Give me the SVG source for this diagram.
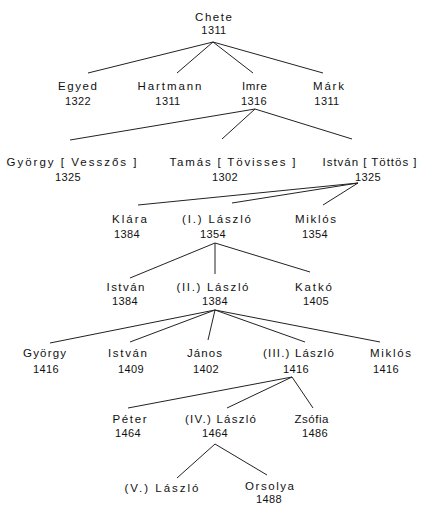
<svg xmlns="http://www.w3.org/2000/svg" width="426" height="505" viewBox="0 0 426 505">
<style>
text{font-family:"Liberation Sans","DejaVu Sans",sans-serif;font-size:11.5px;fill:#111;text-anchor:middle;letter-spacing:1px}
.y{font-size:11px;letter-spacing:0.4px}
#connectors line{stroke:#222;stroke-width:1;fill:none}
</style>
<rect width="426" height="505" fill="#fff"/>
<g id="connectors">
<line x1="213" y1="42" x2="88" y2="73"/>
<line x1="213" y1="42" x2="177" y2="73"/>
<line x1="213" y1="42" x2="253" y2="73"/>
<line x1="213" y1="42" x2="323" y2="73"/>
<line x1="255" y1="109" x2="70" y2="140"/>
<line x1="255" y1="109" x2="222" y2="139"/>
<line x1="255" y1="109" x2="352" y2="139"/>
<line x1="358" y1="183" x2="138" y2="205"/>
<line x1="358" y1="183" x2="232" y2="203"/>
<line x1="358" y1="183" x2="323" y2="205"/>
<line x1="215" y1="243" x2="130" y2="278"/>
<line x1="215" y1="243" x2="215" y2="274"/>
<line x1="215" y1="243" x2="310" y2="272"/>
<line x1="215" y1="310" x2="50" y2="343"/>
<line x1="215" y1="310" x2="130" y2="342"/>
<line x1="215" y1="310" x2="208" y2="340"/>
<line x1="215" y1="310" x2="305" y2="342"/>
<line x1="215" y1="310" x2="380" y2="342"/>
<line x1="292" y1="377" x2="128" y2="408"/>
<line x1="292" y1="377" x2="227" y2="408"/>
<line x1="292" y1="377" x2="313" y2="408"/>
<line x1="215" y1="444" x2="177" y2="478"/>
<line x1="215" y1="444" x2="267" y2="475"/>
</g>
<g id="chete"><text x="214" y="21" textLength="38">Chete</text><text class="y" x="214" y="34">1311</text></g>
<g id="egyed"><text x="78" y="90" textLength="40">Egyed</text><text class="y" x="78" y="105">1322</text></g>
<g id="hartmann"><text x="170" y="90" textLength="65">Hartmann</text><text class="y" x="168" y="105">1311</text></g>
<g id="imre"><text x="255" y="90" textLength="26">Imre</text><text class="y" x="254" y="105">1316</text></g>
<g id="mark"><text x="329" y="90" textLength="32">Márk</text><text class="y" x="327" y="105">1311</text></g>
<g id="gyorgy-vesszos"><text x="72" y="166" textLength="131">György [ Vesszős ]</text><text class="y" x="68" y="181">1325</text></g>
<g id="tamas-tovisses"><text x="233" y="166" textLength="127">Tamás [ Tövisses ]</text><text class="y" x="225" y="181">1302</text></g>
<g id="istvan-tottos"><text x="370" y="166" textLength="95">István [ Töttös ]</text><text class="y" x="368" y="181">1325</text></g>
<g id="klara"><text x="130" y="223" textLength="36">Klára</text><text class="y" x="127" y="238">1384</text></g>
<g id="laszlo-1"><text x="217" y="223" textLength="70">(I.) László</text><text class="y" x="213" y="238">1354</text></g>
<g id="miklos-1"><text x="316" y="223" textLength="42">Miklós</text><text class="y" x="315" y="238">1354</text></g>
<g id="istvan-2"><text x="126" y="291" textLength="39">István</text><text class="y" x="125" y="305">1384</text></g>
<g id="laszlo-2"><text x="213" y="291" textLength="73">(II.) László</text><text class="y" x="215" y="305">1384</text></g>
<g id="katko"><text x="314" y="291" textLength="38">Katkó</text><text class="y" x="316" y="305">1405</text></g>
<g id="gyorgy-3"><text x="45" y="357" textLength="44">György</text><text class="y" x="46" y="373">1416</text></g>
<g id="istvan-3"><text x="128" y="357" textLength="40">István</text><text class="y" x="131" y="373">1409</text></g>
<g id="janos"><text x="205" y="357" textLength="36">János</text><text class="y" x="206" y="373">1402</text></g>
<g id="laszlo-3"><text x="299" y="357" textLength="72">(III.) László</text><text class="y" x="296" y="373">1416</text></g>
<g id="miklos-3"><text x="391" y="357" textLength="42">Miklós</text><text class="y" x="386" y="373">1416</text></g>
<g id="peter"><text x="130" y="423" textLength="35">Péter</text><text class="y" x="128" y="437">1464</text></g>
<g id="laszlo-4"><text x="221" y="423" textLength="72">(IV.) László</text><text class="y" x="215" y="437">1464</text></g>
<g id="zsofia"><text x="312" y="423" textLength="35">Zsófia</text><text class="y" x="315" y="437">1486</text></g>
<g id="laszlo-5"><text x="162" y="492" textLength="75">(V.) László</text></g>
<g id="orsolya"><text x="270" y="490" textLength="50">Orsolya</text><text class="y" x="269" y="503">1488</text></g>
</svg>
